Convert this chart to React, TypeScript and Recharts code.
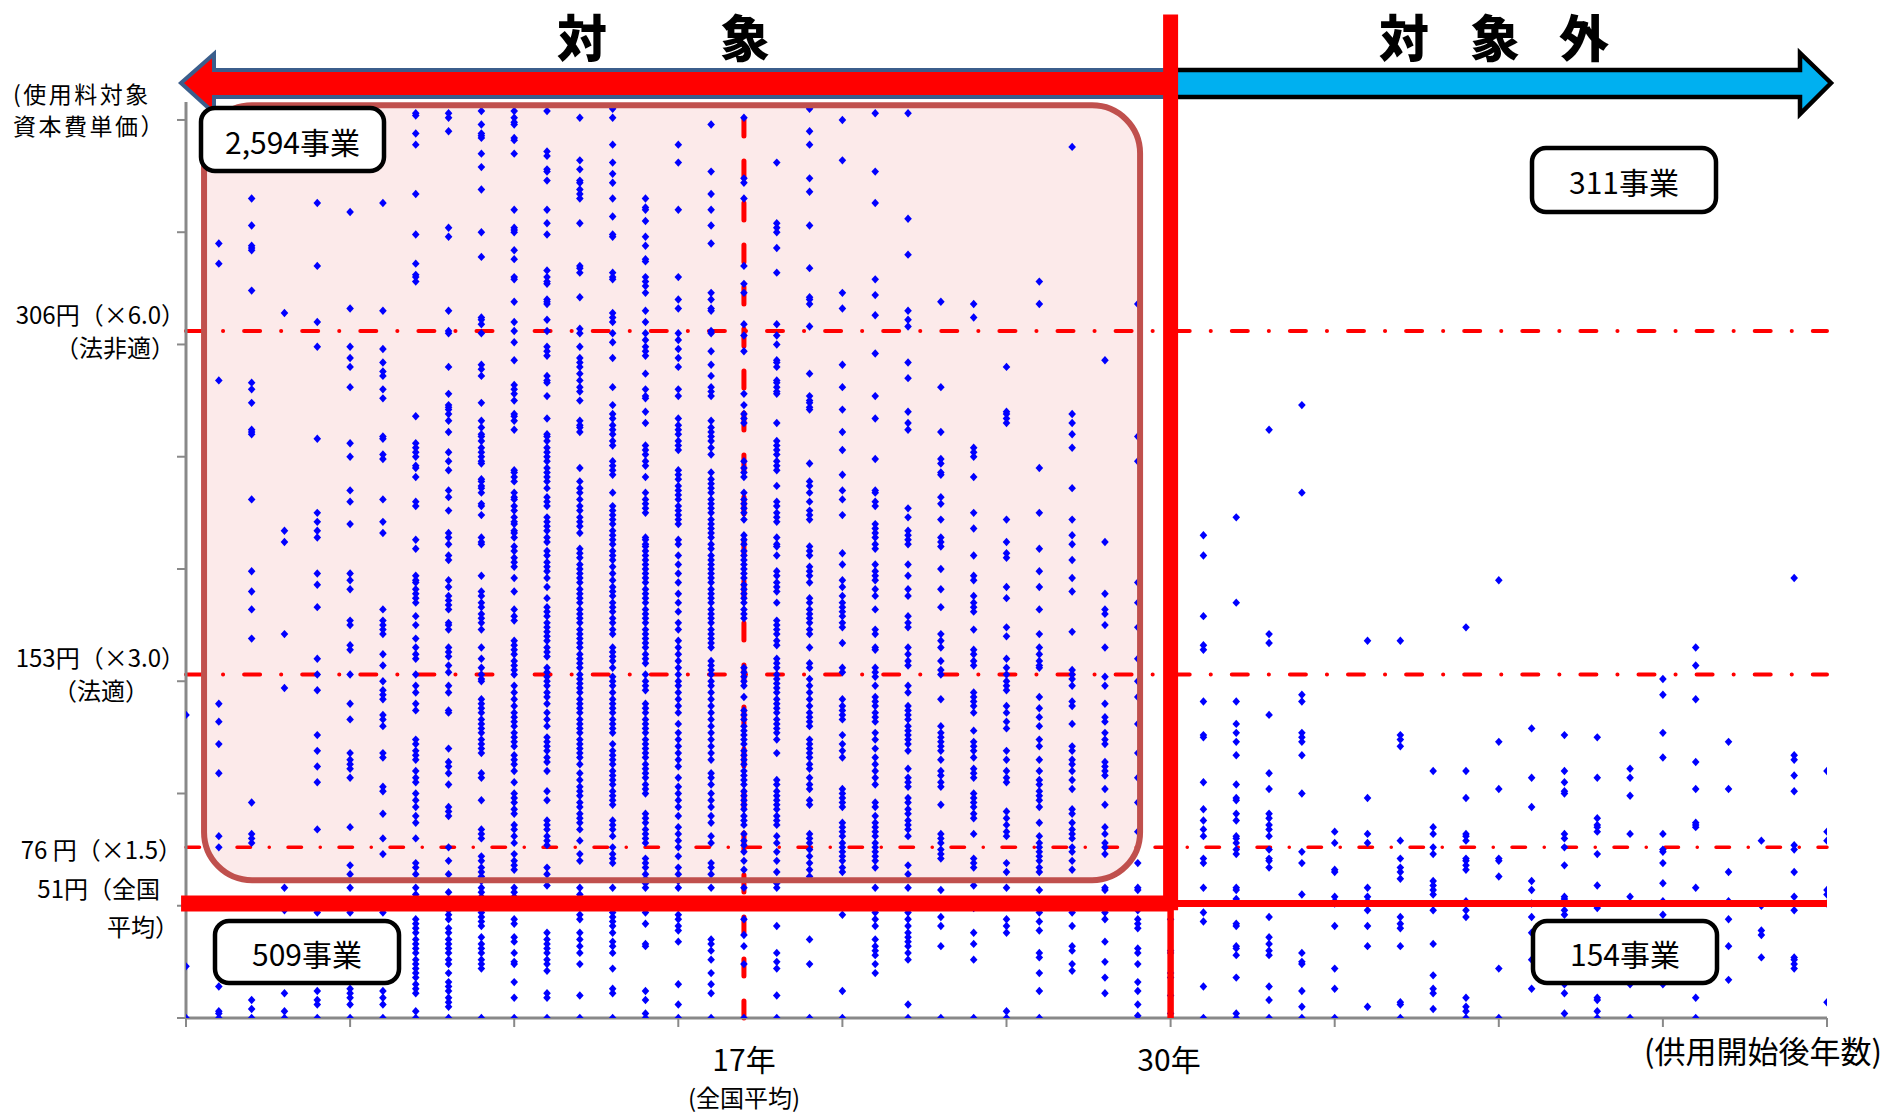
import React from 'react';
import { ScatterChart, Scatter, XAxis, YAxis, ReferenceLine, ReferenceArea } from 'recharts';

// ---- axes / reference values ----
const X_TICKS = [0, 5, 10, 15, 20, 25, 30, 35, 40, 45, 50];
const Y_TICKS = [0, 50, 100, 150, 200, 250, 300, 350, 400];
const X_DOMAIN = [0, 50];
const Y_DOMAIN = [0, 408];
const AVG_YEARS = 17;
const CUTOFF_YEARS = 30;
const AVG_COST = 51;
const LINE_306 = 306;
const LINE_153 = 153;
const LINE_76 = 76;
const TOP_VALUE = 447;

// ---- capital cost per unit (円) by years since start of service (column = year) ----
const c00 = [135, 23, 0];
const c01 = [345, 336, 284, 140, 132, 122, 109, 81, 76, 14, 3, 2, 0];
const c02 = [365, 353, 344, 343, 342, 324, 283, 280, 274, 262, 261, 260, 231, 199, 190, 182, 169, 96, 82, 80, 78, 8, 4, 0];
const c03 = [314, 217, 212, 171, 147, 58, 48, 11, 3, 0];
const c04 = [363, 335, 310, 299, 258, 225, 221, 217, 214, 198, 193, 183, 160, 153, 146, 126, 119, 112, 105, 84, 47, 12, 8, 6, 0];
const c05 = [359, 316, 299, 294, 290, 281, 256, 250, 235, 230, 220, 198, 195, 191, 177, 175, 166, 164, 153, 140, 133, 118, 115, 113, 111, 107, 85, 68, 64, 58, 47, 13, 11, 9, 6, 0];
const c06 = [363, 315, 298, 292, 288, 286, 280, 276, 259, 258, 251, 249, 231, 221, 216, 182, 177, 175, 173, 171, 162, 157, 150, 146, 144, 142, 135, 133, 130, 118, 116, 103, 101, 91, 80, 73, 47, 12, 9, 6, 0];
const c07 = [403, 402, 394, 389, 367, 349, 336, 331, 330, 328, 268, 256, 254, 252, 250, 246, 245, 241, 230, 228, 213, 209, 197, 195, 194, 191, 189, 187, 185, 179, 175, 169, 165, 162, 160, 153, 148, 145, 140, 137, 124, 122, 119, 117, 115, 110, 107, 105, 100, 97, 94, 90, 87, 80, 69, 67, 64, 58, 55, 50, 44, 42, 40, 38, 35, 33, 31, 29, 26, 24, 22, 20, 18, 15, 13, 11, 3, 0];
const c08 = [403, 401, 395, 352, 348, 315, 306, 305, 290, 278, 273, 272, 271, 269, 266, 261, 252, 248, 244, 235, 232, 226, 216, 214, 211, 206, 204, 195, 192, 188, 186, 184, 182, 176, 175, 173, 165, 163, 161, 157, 154, 148, 145, 137, 136, 120, 114, 112, 109, 104, 94, 92, 90, 76, 70, 64, 56, 48, 46, 44, 40, 38, 35, 33, 31, 29, 26, 24, 20, 16, 14, 12, 9, 7, 5, 0];
const c09 = [404, 398, 394, 393, 392, 385, 379, 369, 350, 339, 312, 311, 309, 305, 291, 289, 286, 274, 266, 263, 260, 259, 257, 254, 252, 250, 248, 247, 240, 239, 237, 236, 234, 229, 228, 224, 214, 212, 211, 197, 190, 188, 185, 183, 180, 178, 176, 173, 165, 160, 156, 153, 151, 150, 142, 140, 138, 136, 133, 131, 129, 127, 124, 122, 120, 118, 109, 107, 97, 84, 82, 80, 72, 70, 67, 65, 63, 61, 58, 56, 54, 52, 50, 47, 45, 43, 41, 36, 33, 31, 29, 26, 24, 22, 0];
const c10 = [404, 401, 399, 398, 392, 391, 385, 360, 352, 351, 350, 342, 338, 330, 329, 319, 310, 306, 301, 293, 282, 280, 278, 275, 269, 268, 266, 262, 244, 243, 241, 239, 234, 232, 231, 228, 226, 223, 221, 220, 217, 216, 214, 210, 208, 205, 203, 201, 196, 190, 182, 179, 177, 168, 166, 164, 162, 159, 157, 155, 153, 148, 145, 142, 139, 136, 134, 132, 130, 127, 125, 123, 121, 117, 115, 113, 110, 105, 100, 98, 96, 93, 91, 86, 84, 81, 78, 73, 70, 68, 66, 58, 56, 54, 44, 42, 36, 34, 29, 25, 24, 16, 9, 0];
const c11 = [404, 386, 384, 378, 377, 373, 360, 354, 349, 333, 330, 328, 327, 320, 319, 318, 311, 306, 299, 297, 295, 286, 284, 283, 277, 267, 260, 259, 257, 254, 252, 250, 248, 245, 243, 241, 239, 236, 232, 230, 228, 223, 221, 219, 217, 214, 212, 208, 206, 203, 201, 199, 196, 192, 187, 183, 181, 179, 176, 174, 172, 170, 168, 165, 163, 161, 156, 154, 152, 150, 148, 145, 143, 140, 136, 133, 130, 125, 123, 121, 119, 116, 114, 110, 101, 97, 88, 86, 84, 81, 79, 77, 67, 64, 59, 38, 35, 33, 31, 29, 26, 24, 21, 11, 9, 0];
const c12 = [401, 382, 378, 373, 372, 369, 367, 365, 354, 335, 334, 332, 321, 307, 305, 299, 294, 292, 290, 287, 284, 281, 279, 275, 266, 264, 263, 261, 245, 239, 236, 234, 231, 228, 226, 223, 221, 219, 216, 209, 207, 205, 202, 200, 198, 196, 194, 191, 189, 187, 185, 182, 180, 178, 176, 173, 171, 169, 167, 165, 162, 160, 158, 156, 153, 151, 149, 147, 145, 142, 140, 138, 136, 133, 131, 129, 127, 124, 122, 120, 118, 116, 113, 109, 106, 103, 101, 99, 96, 94, 91, 89, 87, 84, 79, 73, 70, 58, 55, 52, 50, 46, 44, 38, 35, 32, 29, 24, 10, 0];
const c13 = [405, 401, 389, 381, 376, 372, 365, 357, 349, 348, 332, 330, 329, 314, 312, 310, 305, 301, 294, 281, 273, 269, 267, 264, 262, 260, 257, 255, 248, 246, 244, 242, 234, 228, 226, 224, 222, 220, 217, 215, 213, 211, 208, 206, 204, 201, 198, 195, 192, 190, 188, 185, 183, 181, 178, 176, 173, 171, 165, 163, 161, 159, 156, 152, 150, 148, 145, 142, 140, 138, 136, 133, 131, 129, 127, 122, 119, 117, 115, 113, 110, 108, 106, 104, 101, 99, 97, 95, 88, 86, 84, 81, 76, 73, 71, 69, 58, 47, 45, 43, 41, 38, 34, 32, 29, 22, 13, 11, 0];
const c14 = [365, 361, 360, 355, 348, 344, 338, 337, 330, 328, 326, 323, 315, 310, 305, 302, 299, 297, 295, 287, 280, 277, 276, 270, 265, 255, 253, 251, 248, 246, 241, 234, 231, 229, 227, 225, 214, 213, 211, 210, 208, 206, 204, 202, 200, 198, 196, 194, 191, 189, 187, 185, 182, 180, 178, 176, 173, 171, 169, 167, 165, 162, 160, 158, 153, 150, 148, 146, 140, 138, 136, 133, 131, 129, 127, 124, 122, 120, 118, 116, 113, 111, 109, 107, 104, 102, 100, 91, 89, 87, 84, 82, 80, 78, 71, 69, 67, 64, 62, 60, 58, 47, 42, 33, 32, 12, 8, 2, 0];
const c15 = [389, 381, 360, 330, 320, 316, 305, 302, 298, 294, 290, 280, 277, 267, 264, 262, 260, 257, 255, 253, 244, 242, 240, 237, 235, 233, 231, 228, 226, 224, 222, 220, 213, 211, 206, 202, 198, 194, 189, 185, 181, 176, 173, 168, 165, 162, 159, 156, 153, 150, 148, 145, 142, 139, 136, 131, 127, 124, 121, 118, 115, 112, 107, 103, 100, 97, 94, 90, 85, 82, 79, 76, 72, 67, 64, 61, 58, 46, 44, 41, 39, 34, 15, 6, 0];
const c16 = [398, 377, 367, 360, 353, 345, 323, 320, 316, 315, 306, 305, 297, 291, 286, 281, 279, 277, 266, 263, 261, 259, 257, 254, 251, 243, 240, 238, 236, 234, 231, 229, 227, 225, 222, 220, 218, 216, 214, 211, 209, 206, 204, 202, 200, 198, 196, 194, 191, 189, 187, 185, 182, 180, 178, 176, 173, 171, 169, 167, 165, 159, 157, 155, 153, 150, 148, 145, 142, 139, 136, 133, 130, 127, 124, 121, 118, 115, 109, 107, 104, 100, 97, 94, 90, 87, 81, 78, 69, 67, 64, 58, 35, 33, 30, 26, 20, 15, 11, 0];
const c17 = [401, 374, 372, 365, 335, 327, 323, 309, 304, 297, 278, 273, 269, 267, 265, 248, 245, 243, 241, 234, 231, 229, 227, 225, 222, 215, 213, 211, 208, 206, 204, 202, 200, 198, 196, 193, 191, 189, 187, 185, 182, 180, 178, 156, 154, 152, 150, 148, 143, 137, 135, 133, 130, 128, 126, 124, 122, 119, 117, 115, 113, 110, 108, 106, 104, 101, 99, 97, 95, 93, 90, 88, 86, 82, 79, 77, 74, 70, 66, 58, 44, 37, 32, 24, 0];
const c18 = [381, 354, 352, 350, 343, 332, 309, 304, 300, 293, 292, 290, 284, 283, 281, 279, 278, 265, 257, 255, 253, 251, 248, 246, 244, 237, 230, 228, 225, 223, 221, 214, 211, 210, 206, 199, 197, 194, 192, 190, 185, 177, 175, 173, 171, 168, 166, 160, 158, 156, 153, 151, 149, 147, 145, 142, 140, 138, 136, 133, 131, 129, 127, 124, 118, 106, 104, 101, 99, 97, 95, 93, 90, 88, 86, 81, 78, 74, 70, 65, 60, 58, 41, 29, 25, 22, 10, 0];
const c19 = [405, 395, 389, 374, 368, 353, 334, 321, 320, 318, 308, 287, 277, 275, 274, 272, 271, 247, 239, 237, 234, 230, 226, 224, 222, 210, 208, 206, 201, 199, 197, 194, 187, 185, 182, 180, 178, 176, 173, 171, 165, 158, 156, 151, 148, 145, 142, 139, 136, 134, 132, 130, 124, 122, 120, 118, 116, 113, 111, 107, 104, 102, 97, 95, 82, 80, 78, 75, 72, 69, 66, 63, 35, 24, 0];
const c20 = [400, 382, 323, 316, 291, 281, 271, 261, 253, 242, 235, 231, 224, 207, 202, 195, 192, 188, 185, 183, 181, 179, 176, 174, 167, 156, 154, 142, 139, 137, 135, 133, 126, 122, 119, 116, 102, 100, 98, 96, 94, 87, 85, 83, 81, 78, 76, 74, 72, 70, 67, 65, 46, 12, 0];
const c21 = [403, 377, 363, 329, 322, 313, 296, 277, 267, 249, 235, 234, 230, 228, 220, 218, 216, 214, 211, 209, 202, 199, 197, 195, 191, 188, 182, 173, 171, 165, 164, 156, 154, 152, 148, 143, 141, 139, 136, 134, 132, 127, 124, 120, 116, 113, 110, 107, 104, 96, 94, 90, 87, 85, 83, 81, 78, 76, 74, 72, 70, 67, 58, 47, 44, 41, 35, 32, 30, 28, 24, 20];
const c22 = [403, 356, 340, 315, 311, 308, 292, 285, 270, 265, 262, 227, 223, 217, 215, 213, 211, 202, 197, 191, 188, 179, 176, 174, 165, 162, 159, 157, 148, 145, 139, 137, 135, 133, 130, 128, 126, 124, 122, 119, 111, 107, 105, 103, 98, 96, 93, 91, 88, 86, 84, 81, 68, 64, 58, 47, 44, 41, 38, 36, 34, 32, 29, 26, 6, 0];
const c23 = [319, 281, 261, 249, 247, 243, 242, 232, 229, 222, 214, 212, 210, 200, 191, 183, 171, 168, 165, 159, 155, 153, 142, 130, 127, 125, 123, 121, 119, 115, 110, 108, 105, 103, 95, 82, 80, 78, 75, 73, 71, 57, 45, 41, 32, 0];
const c24 = [318, 312, 254, 252, 250, 241, 225, 218, 206, 197, 195, 188, 185, 183, 181, 173, 164, 162, 159, 157, 145, 143, 141, 139, 136, 128, 123, 121, 119, 116, 111, 109, 107, 100, 98, 96, 94, 91, 89, 82, 71, 69, 67, 59, 49, 38, 33, 26, 0];
const c25 = [290, 270, 269, 267, 265, 222, 212, 207, 205, 192, 187, 174, 170, 160, 156, 153, 150, 148, 146, 139, 136, 132, 129, 119, 115, 110, 107, 105, 92, 89, 86, 83, 81, 69, 65, 58, 44, 41, 38, 3, 0];
const c26 = [328, 318, 245, 225, 209, 199, 192, 182, 171, 165, 162, 159, 157, 156, 143, 138, 134, 130, 124, 121, 115, 110, 106, 104, 101, 99, 97, 94, 87, 81, 78, 76, 74, 72, 70, 67, 65, 57, 47, 43, 39, 29, 27, 20, 12, 0];
const c27 = [388, 269, 265, 260, 254, 236, 222, 215, 211, 204, 196, 190, 172, 155, 153, 151, 148, 141, 139, 131, 121, 119, 115, 113, 110, 106, 102, 93, 91, 87, 84, 82, 80, 76, 74, 70, 66, 47, 41, 32, 30, 24, 21];
const c28 = [293, 212, 189, 182, 180, 175, 165, 152, 148, 140, 134, 132, 127, 124, 122, 114, 112, 110, 108, 102, 95, 85, 82, 78, 76, 73, 58, 57, 47, 44, 34, 25, 18, 11];
const c29 = [318, 259, 248, 194, 185, 174, 160, 150, 143, 131, 118, 107, 96, 83, 69, 58, 57, 48, 44, 42, 40, 31, 29, 24, 16, 12, 6, 1];
const c30 = [44, 30, 29, 20, 18, 10, 2];
const c31 = [215, 206, 179, 166, 164, 141, 126, 125, 105, 93, 88, 84, 81, 71, 69, 58, 47, 43, 14, 0];
const c32 = [223, 185, 141, 131, 127, 123, 117, 104, 98, 97, 91, 88, 81, 80, 78, 75, 73, 58, 57, 53, 42, 41, 32, 31, 28, 18, 2, 0];
const c33 = [262, 171, 167, 135, 109, 102, 91, 89, 86, 84, 81, 75, 71, 70, 67, 45, 36, 33, 30, 28, 14, 8, 0];
const c34 = [273, 234, 144, 141, 127, 125, 123, 117, 100, 74, 69, 55, 29, 25, 24, 12, 5, 0];
const c35 = [83, 78, 66, 65, 54, 52, 51, 41, 22, 13, 0];
const c36 = [168, 98, 82, 78, 58, 54, 52, 48, 41, 32, 5];
const c37 = [168, 126, 124, 121, 79, 71, 67, 65, 62, 45, 42, 40, 32, 7, 6, 0];
const c38 = [110, 85, 82, 76, 73, 61, 59, 57, 55, 48, 33, 19, 13, 11, 4];
const c39 = [174, 110, 98, 82, 81, 79, 71, 70, 68, 66, 52, 48, 45, 9, 5, 3, 0];
const c40 = [195, 123, 102, 71, 70, 63, 22, 0];
const c41 = [129, 107, 94, 61, 57, 51, 45, 38, 26, 13];
const c42 = [126, 110, 105, 101, 100, 82, 80, 76, 68, 54, 53, 48, 46, 15, 11, 2];
const c43 = [125, 107, 89, 86, 85, 83, 73, 59, 49, 9, 8, 3, 0];
const c44 = [111, 107, 99, 82, 54, 15, 0];
const c45 = [151, 144, 127, 116, 82, 75, 74, 69, 60, 52, 46, 15];
const c46 = [165, 157, 142, 114, 102, 87, 86, 85, 58, 9, 0];
const c47 = [123, 102, 65, 52, 44, 32, 17];
const c48 = [79, 50, 39, 37, 27];
const c49 = [196, 117, 115, 108, 101, 77, 75, 65, 54, 51, 48, 27, 26, 24, 22];
const c50 = [110, 83, 79, 57, 55, 51, 7];

const COLUMNS = [
  c00, c01, c02, c03, c04, c05, c06, c07, c08, c09,
  c10, c11, c12, c13, c14, c15, c16, c17, c18, c19,
  c20, c21, c22, c23, c24, c25, c26, c27, c28, c29,
  c30, c31, c32, c33, c34, c35, c36, c37, c38, c39,
  c40, c41, c42, c43, c44, c45, c46, c47, c48, c49, c50,
];

const POINTS = COLUMNS.flatMap((ys, x) => ys.map((y) => ({ x, y })));

// target-area box (data coords)
const AREA_X = [0.55, 29.07];
const AREA_Y = [61.4, 406.5];

const FONT = "'Noto Sans CJK JP', 'Noto Sans', sans-serif";
const RED = '#FF0000';
const GRAY = '#898989';

const Diamond = (props: any) => {
  const { cx, cy } = props;
  if (cx == null || cy == null) return <g />;
  return (
    <polygon
      points={`${cx},${cy - 4.2} ${cx + 3.8},${cy} ${cx},${cy + 4.2} ${cx - 3.8},${cy}`}
      fill="#0000FF"
    />
  );
};

const NoTick = () => <g />;

const AreaFill = (p: any) => (
  <rect x={p.x} y={p.y} width={p.width} height={p.height} rx={48} ry={48} fill="#FCEAEA" stroke="none" />
);
const AreaBorder = (p: any) => (
  <rect x={p.x} y={p.y} width={p.width} height={p.height} rx={48} ry={48} fill="none" stroke="#C0504D" strokeWidth={6} />
);

const Box = ({ x, y, w, h, label }: { x: number; y: number; w: number; h: number; label: string }) => (
  <g>
    <rect x={x} y={y} width={w} height={h} rx={14} ry={14} fill="#fff" stroke="#000" strokeWidth={4.5} />
    <text x={x + w / 2} y={y + h / 2 + 1} textAnchor="middle" dominantBaseline="central" fontSize={30} fontFamily={FONT} fill="#000">
      {label}
    </text>
  </g>
);

export default function App() {
  const t = { fontFamily: FONT, fill: '#000' } as const;
  return (
    <div style={{ position: 'absolute', left: 0, top: 0, width: 1890, height: 1115, background: '#fff', overflow: 'hidden' }}>
      {/* under layer: arrows + headings */}
      <svg width={1890} height={1115} style={{ position: 'absolute', left: 0, top: 0 }}>
        <polygon
          points="181,83 214,54 214,70 1172,70 1172,97 214,97 214,113"
          fill={RED}
          stroke="#3B5E8C"
          strokeWidth={4}
          strokeLinejoin="miter"
        />
        <polygon
          points="1170,70 1800,70 1800,53 1831,83 1800,114 1800,97 1170,97"
          fill="#00B0F0"
          stroke="#000"
          strokeWidth={4.5}
          strokeLinejoin="miter"
        />
        <g fontSize={50} fontWeight={900} textAnchor="middle" dominantBaseline="central" {...t}>
          <text x={582} y={35}>対</text>
          <text x={745} y={35}>象</text>
          <text x={1404} y={35}>対</text>
          <text x={1495} y={35}>象</text>
          <text x={1584} y={35}>外</text>
        </g>
      </svg>

      <div style={{ position: 'absolute', left: 0, top: 0 }}>
        <ScatterChart width={1890} height={1115} margin={{ top: 102, right: 63, bottom: 96, left: 185 }}>
          <ReferenceArea
            x1={AREA_X[0]} x2={AREA_X[1]} y1={AREA_Y[0]} y2={AREA_Y[1]}
            shape={AreaFill} ifOverflow="visible" zIndex={50}
          />
          <ReferenceLine y={LINE_306} stroke={RED} strokeWidth={4} strokeDasharray="16 21 0.1 21" strokeLinecap="round" zIndex={100} />
          <ReferenceLine y={LINE_153} stroke={RED} strokeWidth={4} strokeDasharray="16 21 0.1 21" strokeLinecap="round" zIndex={100} />
          <ReferenceLine y={LINE_76} stroke={RED} strokeWidth={3.5} strokeDasharray="13.5 18.7 0.1 18.7" strokeLinecap="round" zIndex={100} />
          <ReferenceLine x={AVG_YEARS} stroke={RED} strokeWidth={5} strokeDasharray="17 25" strokeLinecap="round" zIndex={100} />
          <XAxis
            type="number" dataKey="x" domain={X_DOMAIN} ticks={X_TICKS} height={1}
            tick={NoTick} tickSize={9} tickLine={{ stroke: GRAY, strokeWidth: 2 }}
            axisLine={{ stroke: GRAY, strokeWidth: 3 }} allowDataOverflow
          />
          <YAxis
            type="number" dataKey="y" domain={Y_DOMAIN} ticks={Y_TICKS} width={1}
            tick={NoTick} tickSize={9} tickLine={{ stroke: GRAY, strokeWidth: 2 }}
            axisLine={{ stroke: GRAY, strokeWidth: 3 }} allowDataOverflow
          />
          <Scatter data={POINTS} shape={Diamond} isAnimationActive={false} zIndex={600} />
          <ReferenceLine
            segment={[{ x: -0.15, y: AVG_COST }, { x: CUTOFF_YEARS, y: AVG_COST }]}
            stroke={RED} strokeWidth={16} ifOverflow="visible" zIndex={700}
          />
          <ReferenceLine
            segment={[{ x: CUTOFF_YEARS, y: AVG_COST }, { x: 50, y: AVG_COST }]}
            stroke={RED} strokeWidth={7} ifOverflow="visible" zIndex={700}
          />
          <ReferenceLine
            segment={[{ x: CUTOFF_YEARS, y: 0 }, { x: CUTOFF_YEARS, y: AVG_COST }]}
            stroke={RED} strokeWidth={6.5} ifOverflow="visible" zIndex={700}
          />
          <ReferenceLine
            segment={[{ x: CUTOFF_YEARS, y: AVG_COST - 3 }, { x: CUTOFF_YEARS, y: TOP_VALUE }]}
            stroke={RED} strokeWidth={15} ifOverflow="visible" zIndex={700}
          />
          <ReferenceArea
            x1={AREA_X[0]} x2={AREA_X[1]} y1={AREA_Y[0]} y2={AREA_Y[1]}
            shape={AreaBorder} ifOverflow="visible" zIndex={800}
          />
        </ScatterChart>
      </div>

      {/* over layer: labels + boxes */}
      <svg width={1890} height={1115} style={{ position: 'absolute', left: 0, top: 0, pointerEvents: 'none' }}>
        <g fontSize={24} dominantBaseline="central" {...t}>
          <text x={13} y={93} fontSize={23} letterSpacing={2.5}>(使用料対象</text>
          <text x={13} y={125} fontSize={23} letterSpacing={2.5}>資本費単価）</text>
          <text x={185} y={313} textAnchor="end">306円（×6.0）</text>
          <text x={175} y={346} textAnchor="end">（法非適）</text>
          <text x={185} y={656} textAnchor="end">153円（×3.0）</text>
          <text x={149} y={689} textAnchor="end">（法適）</text>
          <text x={182} y={848} textAnchor="end">76 円（×1.5）</text>
          <text x={160} y={887} textAnchor="end">51円（全国</text>
          <text x={179} y={925} textAnchor="end">平均）</text>
        </g>
        <g textAnchor="middle" dominantBaseline="central" {...t}>
          <text x={744} y={1058} fontSize={30}>17年</text>
          <text x={744} y={1096} fontSize={24}>(全国平均)</text>
          <text x={1169} y={1058} fontSize={30}>30年</text>
          <text x={1763} y={1049} fontSize={31}>(供用開始後年数)</text>
        </g>
        <Box x={201} y={108} w={183} h={63} label="2,594事業" />
        <Box x={1532} y={148} w={184} h={64} label="311事業" />
        <Box x={215} y={921} w={184} h={62} label="509事業" />
        <Box x={1533} y={921} w={184} h={62} label="154事業" />
      </svg>
    </div>
  );
}
